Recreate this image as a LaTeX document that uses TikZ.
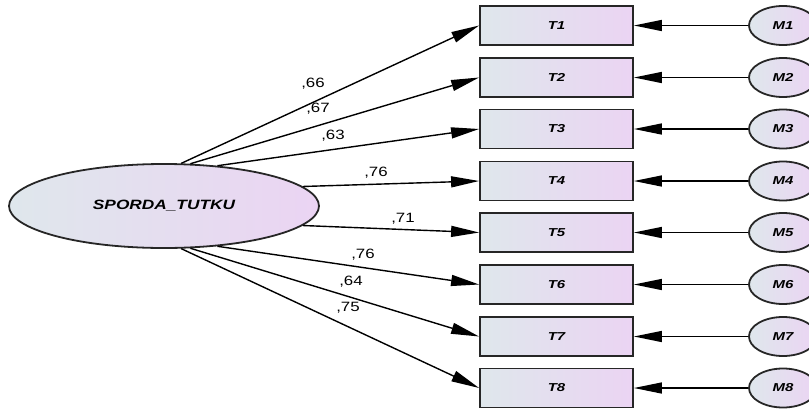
\documentclass[tikz,border=0pt]{standalone}
\usepackage{fontspec}
\setmainfont{Liberation Sans}
\usetikzlibrary{shapes.geometric,arrows.meta}
\definecolor{gl}{HTML}{DFE7EC}
\definecolor{gr}{HTML}{EBD4F3}
\definecolor{bd}{HTML}{262626}
\tikzset{
  grad/.style={left color=gl,right color=gr,draw=bd,line width=1.8pt},
  obs/.style={grad,rectangle,minimum width=153pt,minimum height=39pt,inner sep=0pt,
     font=\fontsize{11.5}{13}\selectfont\bfseries\itshape},
  err/.style={grad,ellipse,minimum width=68pt,minimum height=39pt,inner sep=0pt,
     font=\fontsize{11.5}{13}\selectfont\bfseries\itshape},
  lat/.style={grad,ellipse,minimum width=310pt,minimum height=84pt,inner sep=0pt,
     font=\fontsize{13.5}{15}\selectfont\bfseries\itshape},
  conn/.style={line width=1.4pt,-{Triangle[length=28pt,width=11pt]}},
  lbl/.style={inner sep=0pt,font=\fontsize{13.5}{15}\selectfont}
}
\newcommand{\wid}[1]{\scalebox{1.25}[1]{#1}}
\begin{document}
\begin{tikzpicture}[x=1pt,y=-1pt]
\useasboundingbox (0,0) rectangle (809,410);
\node[lat] (E) at (164,206) {\scalebox{1.28}[1]{SPORDA\_TUTKU}};
\foreach \i/\y in {1/25.5,2/77.5,3/129,4/181,5/232.5,6/284.5,7/336.5,8/388}{
  \node[obs] (T\i) at (556.5,\y) {\scalebox{1.3}[1]{T\i}};
  \node[err] (M\i) at (783,\y) {\scalebox{1.3}[1]{M\i}};
  \draw[conn] (M\i.west) -- (T\i.east);
}
\draw[conn] (E.68) -- (T1.west);
\draw[conn] (E.58) -- (T2.west);
\draw[conn] (E.37) -- (T3.west);
\draw[conn] (E.8) -- (T4.west);
\draw[conn] (E.-8) -- (T5.west);
\draw[conn] (E.-37) -- (T6.west);
\draw[conn] (E.-58) -- (T7.west);
\draw[conn] (E.-68) -- (T8.west);
\node[lbl] (L1) at (313,84) {\wid{,66}};
\node[lbl] (L2) at (318,109) {\wid{,67}};
\node[lbl] (L3) at (333,136) {\wid{,63}};
\node[lbl] (L4) at (376,173) {\wid{,76}};
\node[lbl] (L5) at (403,219) {\wid{,71}};
\node[lbl] (L6) at (363,255) {\wid{,76}};
\node[lbl] (L7) at (351,282) {\wid{,64}};
\node[lbl] (L8) at (348,308) {\wid{,75}};
\end{tikzpicture}
\end{document}
